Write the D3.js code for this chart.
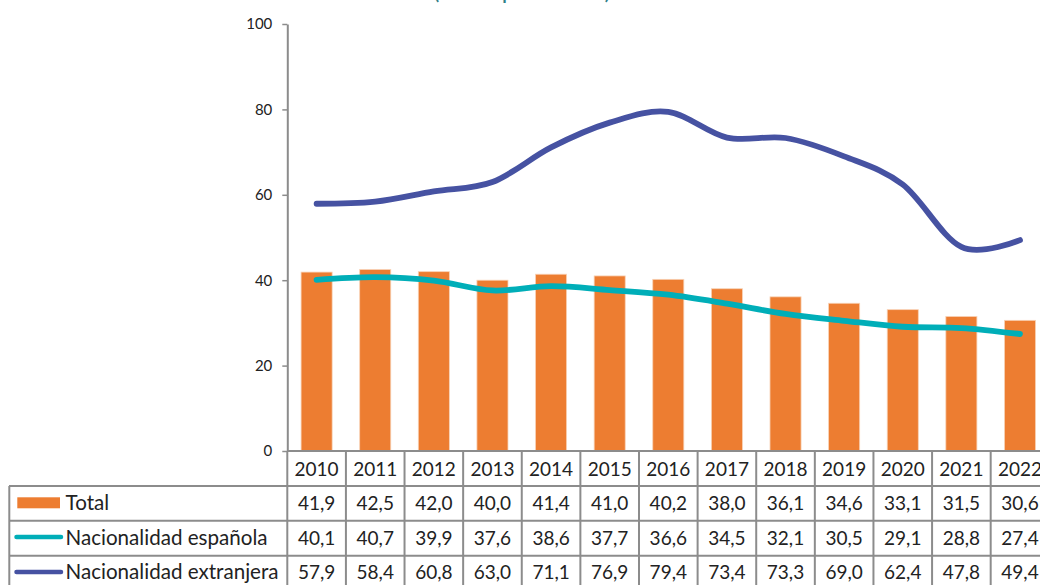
<!DOCTYPE html>
<html>
<head>
<meta charset="utf-8">
<script src="https://cdn.jsdelivr.net/npm/d3@7"></script>
<style>
  body { margin: 0; background: #fff; overflow: hidden; }
  svg text { font-family: Lato, "Open Sans", sans-serif; }
</style>
</head>
<body>
<svg id="chart" width="1040" height="585"></svg>
<script>
// ---- data ----
const years = ["2010","2011","2012","2013","2014","2015","2016","2017","2018","2019","2020","2021","2022"];
const total      = [41.9, 42.5, 42.0, 40.0, 41.4, 41.0, 40.2, 38.0, 36.1, 34.6, 33.1, 31.5, 30.6];
const espanola   = [40.1, 40.7, 39.9, 37.6, 38.6, 37.7, 36.6, 34.5, 32.1, 30.5, 29.1, 28.8, 27.4];
const extranjera = [57.9, 58.4, 60.8, 63.0, 71.1, 76.9, 79.4, 73.4, 73.3, 69.0, 62.4, 47.8, 49.4];
const seriesNames = ["Total", "Nacionalidad española", "Nacionalidad extranjera"];
const yTicks = [0, 20, 40, 60, 80, 100];
const titleText = "(Tasas por 1.000)";

// ---- layout ----
const svg = d3.select("#chart");
const plotLeft = 287.3, plotRight = 1049.3, plotTop = 24, plotBottom = 451;
const rowLines = [451, 486, 520.7, 555.7, 590.5];
const baselines = [476, 510, 544.5, 579];
const gridColor = "#8c8c8c";
const textColor = "#222222";
const colors = { total: "#ED7D31", esp: "#00AEB8", ext: "#4652A2" };

const xCell = d3.scaleBand().domain(years).range([plotLeft, plotRight]);
const x = d3.scaleBand().domain(years).range([plotLeft, plotRight]).paddingInner(0.47).paddingOuter(0.235);
const y = d3.scaleLinear().domain([0, 100]).range([plotBottom, plotTop]);
const cx = d => xCell(d) + xCell.bandwidth() / 2;

// title (cut off at the top, as in the reference)
svg.append("text")
  .attr("x", 522).attr("y", -1)
  .attr("text-anchor", "middle")
  .attr("fill", "#2F7F88")
  .style("font-size", "24px")
  .text(titleText);

// bars
svg.append("g").selectAll("rect")
  .data(years.map((yr, i) => ({ yr, v: total[i] })))
  .join("rect")
  .attr("x", d => x(d.yr))
  .attr("width", x.bandwidth())
  .attr("y", d => y(d.v))
  .attr("height", d => y(0) - y(d.v))
  .attr("fill", colors.total)
  .attr("stroke", "#f8d2b6")
  .attr("stroke-width", 0.8);

// lines
const line = d3.line()
  .x(d => cx(d.yr))
  .y(d => y(d.v))
  .curve(d3.curveCardinal.tension(0));

svg.append("path")
  .datum(years.map((yr, i) => ({ yr, v: espanola[i] })))
  .attr("d", line)
  .attr("fill", "none")
  .attr("stroke", colors.esp)
  .attr("stroke-width", 5.8)
  .attr("stroke-linecap", "round")
  .attr("stroke-linejoin", "round");

svg.append("path")
  .datum(years.map((yr, i) => ({ yr, v: extranjera[i] })))
  .attr("d", line)
  .attr("fill", "none")
  .attr("stroke", colors.ext)
  .attr("stroke-width", 5.8)
  .attr("stroke-linecap", "round")
  .attr("stroke-linejoin", "round");

// y axis
const yAxis = svg.append("g")
  .attr("transform", `translate(${plotLeft},0)`)
  .call(d3.axisLeft(y).tickValues(yTicks).tickSize(5).tickPadding(10).tickSizeOuter(0));
yAxis.select(".domain").attr("stroke", gridColor).attr("stroke-width", 2);
yAxis.selectAll(".tick line").attr("stroke", gridColor).attr("stroke-width", 1.5);
yAxis.selectAll(".tick text")
  .style("font-size", "15px")
  .attr("fill", textColor)
  .attr("font-family", "Lato, sans-serif");

// data table
const table = svg.append("g");
table.append("line")
  .attr("x1", plotLeft).attr("x2", 1040)
  .attr("y1", rowLines[0]).attr("y2", rowLines[0])
  .attr("stroke", gridColor).attr("stroke-width", 2);
table.selectAll("line.h")
  .data(rowLines.slice(1))
  .join("line").attr("class", "h")
  .attr("x1", 9).attr("x2", 1040)
  .attr("y1", d => d).attr("y2", d => d)
  .attr("stroke", gridColor).attr("stroke-width", 2);
table.append("line")
  .attr("x1", 9.3).attr("x2", 9.3)
  .attr("y1", rowLines[1]).attr("y2", 585)
  .attr("stroke", gridColor).attr("stroke-width", 2);
table.selectAll("line.v")
  .data(years)
  .join("line").attr("class", "v")
  .attr("x1", d => xCell(d)).attr("x2", d => xCell(d))
  .attr("y1", rowLines[0]).attr("y2", 585)
  .attr("stroke", gridColor).attr("stroke-width", 2);

// year labels
table.selectAll("text.yr")
  .data(years)
  .join("text").attr("class", "yr")
  .attr("x", d => cx(d)).attr("y", baselines[0])
  .attr("text-anchor", "middle")
  .attr("fill", textColor)
  .style("font-size", "19px")
  .text(d => d);

// values
const fmt = v => v.toFixed(1).replace(".", ",");
[total, espanola, extranjera].forEach((arr, r) => {
  table.selectAll("text.v" + r)
    .data(arr)
    .join("text").attr("class", "v" + r)
    .attr("x", (d, i) => cx(years[i])).attr("y", baselines[r + 1])
    .attr("text-anchor", "middle")
    .attr("fill", textColor)
    .style("font-size", "19px")
    .text(d => fmt(d));
});

// legend keys
table.append("rect")
  .attr("x", 17.3).attr("y", 497.3).attr("width", 42.7).attr("height", 11)
  .attr("fill", colors.total);
table.append("line")
  .attr("x1", 16.5).attr("x2", 61).attr("y1", 537).attr("y2", 537)
  .attr("stroke", colors.esp).attr("stroke-width", 4.5).attr("stroke-linecap", "round");
table.append("line")
  .attr("x1", 16.5).attr("x2", 61).attr("y1", 572).attr("y2", 572)
  .attr("stroke", colors.ext).attr("stroke-width", 4.5).attr("stroke-linecap", "round");
table.selectAll("text.lg")
  .data(seriesNames)
  .join("text").attr("class", "lg")
  .attr("x", 65.5).attr("y", (d, i) => baselines[i + 1])
  .attr("fill", textColor)
  .style("font-size", "20.6px")
  .text(d => d);
</script>
</body>
</html>
